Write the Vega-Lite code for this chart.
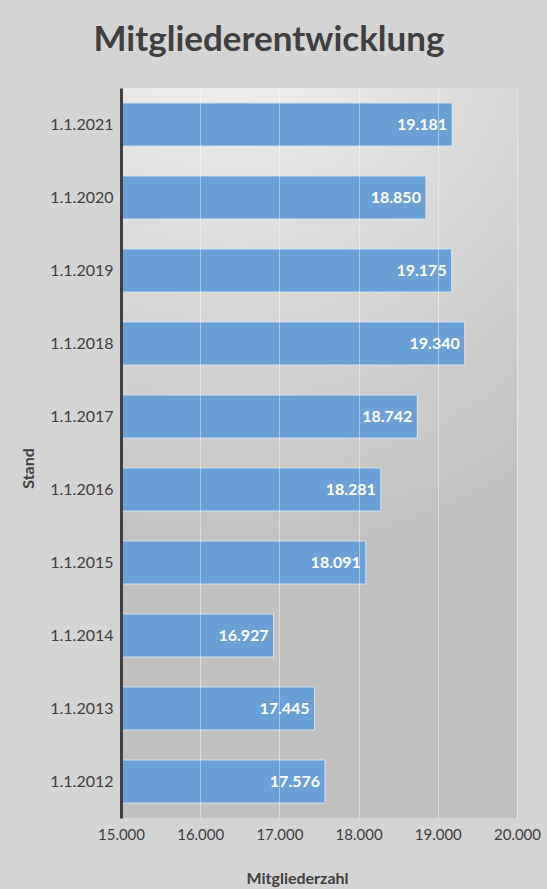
{
  "$schema": "https://vega.github.io/schema/vega-lite/v6.json",
  "width": 396,
  "height": 730,
  "autosize": {"type": "none"},
  "padding": {"left": 121, "top": 88, "right": 30, "bottom": 71},
  "background": "#d4d4d4",
  "title": {
    "text": "Mitgliederentwicklung",
    "font": "Lato",
    "fontSize": 35,
    "fontWeight": "bold",
    "color": "#404040",
    "anchor": "middle",
    "frame": "group",
    "baseline": "alphabetic",
    "dx": -50,
    "offset": 2
  },
  "data": {
    "values": [
      {"Stand": "1.1.2021", "Mitglieder": 19181},
      {"Stand": "1.1.2020", "Mitglieder": 18850},
      {"Stand": "1.1.2019", "Mitglieder": 19175},
      {"Stand": "1.1.2018", "Mitglieder": 19340},
      {"Stand": "1.1.2017", "Mitglieder": 18742},
      {"Stand": "1.1.2016", "Mitglieder": 18281},
      {"Stand": "1.1.2015", "Mitglieder": 18091},
      {"Stand": "1.1.2014", "Mitglieder": 16927},
      {"Stand": "1.1.2013", "Mitglieder": 17445},
      {"Stand": "1.1.2012", "Mitglieder": 17576}
    ]
  },
  "encoding": {
    "y": {
      "field": "Stand",
      "type": "nominal",
      "sort": ["1.1.2021", "1.1.2020", "1.1.2019", "1.1.2018", "1.1.2017", "1.1.2016", "1.1.2015", "1.1.2014", "1.1.2013", "1.1.2012"],
      "scale": {"paddingInner": 0.41, "paddingOuter": 0.205},
      "axis": {
        "title": "Stand",
        "titleFont": "Lato",
        "titleFontSize": 16,
        "titleFontWeight": "bold",
        "titleColor": "#404040",
        "titleX": -93,
        "titleY": 380,
        "titleBaseline": "middle",
        "labelFont": "Lato",
        "labelFontSize": 16,
        "labelColor": "#404040",
        "labelPadding": 8,
        "ticks": false,
        "grid": false,
        "domain": true,
        "domainColor": "#404040",
        "domainWidth": 3,
        "zindex": 1
      }
    },
    "x": {
      "field": "Mitglieder",
      "type": "quantitative",
      "scale": {"domain": [15000, 20000], "zero": false, "nice": false},
      "axis": {
        "title": "Mitgliederzahl",
        "titleFont": "Lato",
        "titleFontSize": 16,
        "titleFontWeight": "bold",
        "titleColor": "#404040",
        "titleX": 176,
        "titleY": 65,
        "titleBaseline": "alphabetic",
        "format": ",d",
        "values": [15000, 16000, 17000, 18000, 19000, 20000],
        "labelFont": "Lato",
        "labelFontSize": 15,
        "labelColor": "#404040",
        "labelPadding": 9,
        "labelFlush": false,
        "labelOverlap": false,
        "ticks": false,
        "domain": false,
        "grid": true,
        "gridColor": "#ffffff",
        "gridOpacity": 0.4,
        "gridWidth": 1,
        "zindex": 1
      }
    }
  },
  "layer": [
    {
      "mark": {"type": "bar", "color": "#6aa0d5", "stroke": "#d2e2f2", "strokeWidth": 1},
      "encoding": {"x2": {"datum": 15000}}
    },
    {
      "mark": {
        "type": "text",
        "align": "right",
        "baseline": "middle",
        "dx": -5,
        "font": "Lato",
        "fontSize": 16,
        "fontWeight": "bold",
        "color": "#ffffff"
      },
      "encoding": {"text": {"field": "Mitglieder", "type": "quantitative", "format": ",d"}}
    }
  ],
  "config": {
    "locale": {"number": {"decimal": ",", "thousands": ".", "grouping": [3], "currency": ["", " €"]}},
    "view": {
      "stroke": null,
      "fill": {
        "gradient": "radial",
        "x1": 0.38, "y1": -0.1, "r1": 0,
        "x2": 0.38, "y2": -0.1, "r2": 0.75,
        "stops": [
          {"offset": 0, "color": "#f4f4f4"},
          {"offset": 0.45, "color": "#dcdcdc"},
          {"offset": 1, "color": "#c0c0c0"}
        ]
      }
    }
  }
}
